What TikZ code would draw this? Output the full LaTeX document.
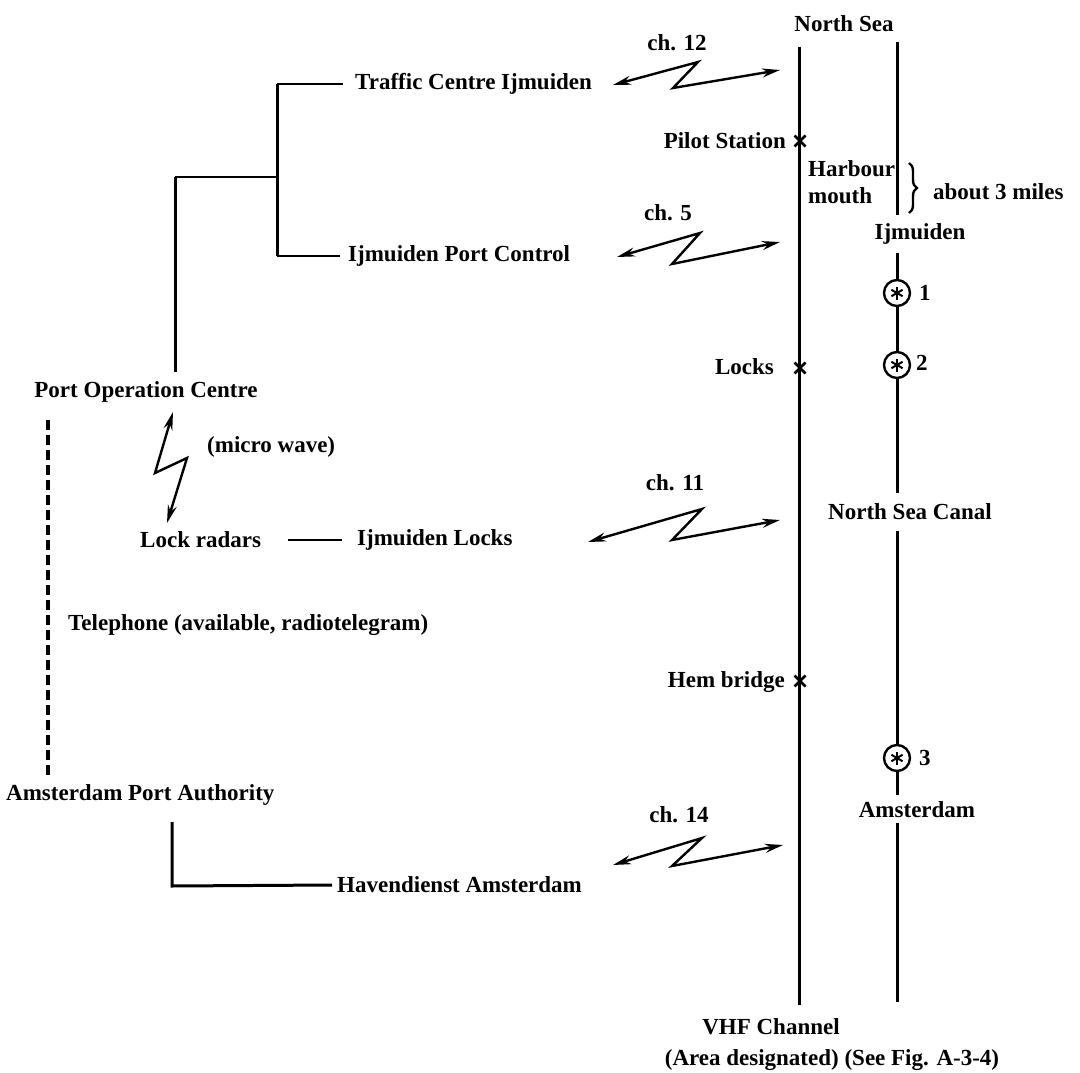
\documentclass[tikz,border=0pt]{standalone}
\usepackage{fontspec}
\setmainfont{Liberation Serif}
\usetikzlibrary{arrows.meta,decorations.pathreplacing}
\begin{document}
\begin{tikzpicture}[x=1pt,y=-1pt,
  lbl/.style={font=\bfseries\fontsize{23}{27}\selectfont, inner sep=0pt},
  rline/.style={line width=3pt},
  tree/.style={line width=3pt},
  thin tree/.style={line width=2.2pt},
  radio/.style={line width=2.4pt, {Stealth[length=18pt,width=9pt]}-{Stealth[length=18pt,width=9pt]}},
  xmark/.style={line width=2.5pt},
  ast/.style={circle, draw, line width=2.4pt, fill=white, minimum size=26pt, inner sep=0pt},
  phone/.style={line width=4pt, dash pattern=on 10pt off 5pt}]

\useasboundingbox (0,0) rectangle (1080,1073);

% ---------- right-hand channel labels ----------
\node[lbl] (ns) at (844,24) {North Sea};
\node[lbl, anchor=east] (pilot) at (786,141) {Pilot Station};
\node[lbl, anchor=west, align=left] (hm) at (808,182) {Harbour\\mouth};
\node[lbl, anchor=west] (a3m) at (933,192) {about 3 miles};
\node[lbl] (ijm) at (920,234) {Ijmuiden};
\node[lbl, anchor=east] (locks) at (774,367) {Locks};
\node[lbl] (nsc) at (910,512) {North Sea Canal};
\node[lbl, anchor=east] (hem) at (785,682) {Hem bridge};
\node[lbl] (ams) at (917,810) {Amsterdam};
\node[lbl] (vhf) at (771,1027) {VHF Channel};
\node[lbl] (area) at (832,1060) {(Area designated) (See Fig. A-3-4)};

% ---------- left-hand organisation ----------
\node[lbl, anchor=west] (tci) at (355,84) {Traffic Centre Ijmuiden};
\node[lbl, anchor=west] (ipc) at (348,256) {Ijmuiden Port Control};
\node[lbl] (poc) at (146,392) {Port Operation Centre};
\node[lbl, anchor=west] (mw) at (207,447) {(micro wave)};
\node[lbl, anchor=west] (lr) at (140,540) {Lock radars};
\node[lbl, anchor=west] (il) at (357,540) {Ijmuiden Locks};
\node[lbl, anchor=west] (tel) at (68,625) {Telephone (available, radiotelegram)};
\node[lbl, anchor=west] (apa) at (6,795) {Amsterdam Port Authority};
\node[lbl, anchor=west] (hav) at (337,885) {Havendienst Amsterdam};

% ---------- channel labels ----------
\node[lbl] (ch12) at (677,43) {ch. 12};
\node[lbl] (ch5) at (668,213) {ch. 5};
\node[lbl] (ch11) at (675,483) {ch. 11};
\node[lbl] (ch14) at (679,815) {ch. 14};

% ---------- VHF channel line ----------
\coordinate (ltop) at (799,47);
\coordinate (lbot) at (799,1005);
\draw[rline] (ltop) -- (lbot);
\foreach \nm/\yy in {xp/141, xl/368, xh/681}{
  \coordinate (\nm) at (800,\yy);
  \draw[xmark] (\nm) +(-5.5,-5.5) -- +(5.5,5.5) +(-5.5,5.5) -- +(5.5,-5.5);
}

% ---------- canal line ----------
\coordinate (rtop) at (897,42);
\coordinate (r1) at (897,215);
\coordinate (r2) at (897,253);
\coordinate (r3) at (897,493);
\coordinate (r4) at (897,531);
\coordinate (r5) at (897,795);
\coordinate (r6) at (897,823);
\coordinate (rbot) at (897,1002);
\node[ast] (c1) at (897,293) {};
\node[ast] (c2) at (897,365) {};
\node[ast] (c3) at (897,758) {};
\foreach \c in {c1,c2,c3}{
  \foreach \a in {90,30,150}{
    \draw[line width=2pt] (\c.center) +(\a:6.5) -- +(\a+180:6.5);
  }
}
\draw[rline] (rtop) -- (r1);
\draw[rline] (r2) -- (c1) -- (c2) -- (r3);
\draw[rline] (r4) -- (c3) -- (r5);
\draw[rline] (r6) -- (rbot);
\node[lbl, anchor=west] (n1) at (919,293) {1};
\node[lbl, anchor=west] (n2) at (916,363) {2};
\node[lbl, anchor=west] (n3) at (919,758) {3};

% brace "about 3 miles"
\coordinate (bt) at (909,163);
\coordinate (bb) at (909,213);
\draw[line width=2.4pt, decorate, decoration={brace, amplitude=8pt}] (bt) -- (bb);

% ---------- tree ----------
\coordinate (p0) at (175,372);
\coordinate (t1) at (175,177);
\coordinate (t2) at (277,177);
\coordinate (t3) at (277,84);
\coordinate (t4) at (277,256);
\draw[tree] (p0) -- (t1);
\draw[thin tree] (t1) -- (t2);
\draw[tree] (t3) -- (t4);
\draw[thin tree] (t3) -- (tci.west -| 343,0);
\draw[thin tree] (t4) -- (ipc.west -| 340,0);

% lock radars -- Ijmuiden Locks
\draw[thin tree] ([xshift=27pt]lr.east) -- ([xshift=-15pt]il.west);

% telephone dashed link
\coordinate (d1) at (48,420);
\coordinate (d2) at (48,777);
\draw[phone] (d1) -- (d2);

% Amsterdam Port Authority -- Havendienst
\coordinate (h1) at (172,822);
\coordinate (h2) at (172,886);
\draw[tree] (h1) -- (h2) -- ([xshift=-5pt]hav.west);

% ---------- radio links ----------
\coordinate (a12l) at (613,85);  \coordinate (a12t) at (698,62);
\coordinate (a12b) at (673,88);  \coordinate (a12r) at (780,70);
\draw[radio] (a12l) -- (a12t) -- (a12b) -- (a12r);

\coordinate (a5l) at (617,257);  \coordinate (a5t) at (700,233);
\coordinate (a5b) at (672,264);  \coordinate (a5r) at (780,242);
\draw[radio] (a5l) -- (a5t) -- (a5b) -- (a5r);

\coordinate (a11l) at (588,542); \coordinate (a11t) at (702,509);
\coordinate (a11b) at (672,540); \coordinate (a11r) at (780,520);
\draw[radio] (a11l) -- (a11t) -- (a11b) -- (a11r);

\coordinate (a14l) at (613,865); \coordinate (a14t) at (702,838);
\coordinate (a14b) at (672,866); \coordinate (a14r) at (783,845);
\draw[radio] (a14l) -- (a14t) -- (a14b) -- (a14r);

\coordinate (mwt) at (173,412);  \coordinate (mwa) at (155,473);
\coordinate (mwb) at (187,458);  \coordinate (mwe) at (167,523);
\draw[radio] (mwt) -- (mwa) -- (mwb) -- (mwe);
\end{tikzpicture}
\end{document}
